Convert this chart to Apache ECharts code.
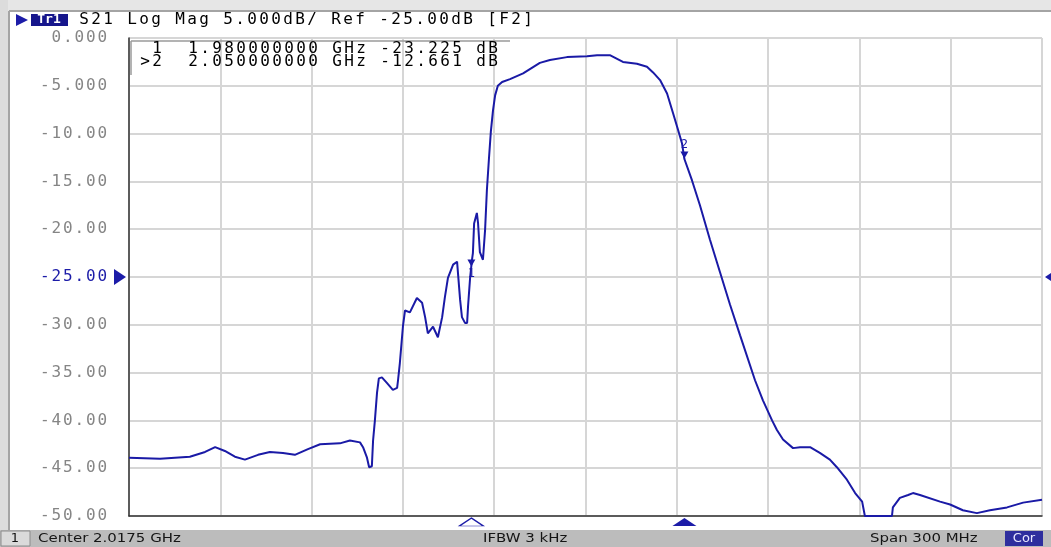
<!DOCTYPE html>
<html>
<head>
<meta charset="utf-8">
<title>S21 Log Mag</title>
<script src="https://cdn.jsdelivr.net/npm/echarts@6/dist/echarts.min.js"></script>
<style>
  html, body { margin: 0; padding: 0; background: #fff; }
  #chart { width: 1051px; height: 547px; }
</style>
</head>
<body>
<div id="chart"></div>
<script>
// sweep: center / span
var centerGHz = 2.0175
var spanMHz = 300
var divMHz = 30

// S21 trace
var freqGHz = [
  1.8675, 1.8777, 1.8875, 1.8925, 1.8958, 1.8990, 1.9023, 1.9056, 1.9099, 1.9138,
  1.9181, 1.9220, 1.9263, 1.9303, 1.9368, 1.9401, 1.9434, 1.9444, 1.9457, 1.9464,
  1.9473, 1.9477, 1.9483, 1.9490, 1.9496, 1.9506, 1.9523, 1.9542, 1.9556, 1.9559,
  1.9565, 1.9575, 1.9582, 1.9598, 1.9621, 1.9638, 1.9648, 1.9657, 1.9674, 1.9690,
  1.9704, 1.9713, 1.9723, 1.9740, 1.9753, 1.9756, 1.9763, 1.9769, 1.9779, 1.9786,
  1.9789, 1.9796, 1.9802, 1.9805, 1.9809, 1.9818, 1.9822, 1.9828, 1.9838, 1.9845,
  1.9851, 1.9858, 1.9864, 1.9871, 1.9878, 1.9887, 1.9901, 1.9927, 1.9970, 2.0025,
  2.0058, 2.0114, 2.0180, 2.0213, 2.0255, 2.0298, 2.0344, 2.0377, 2.0397, 2.0420,
  2.0443, 2.0463, 2.0479, 2.0492, 2.0500, 2.0525, 2.0551, 2.0584, 2.0617, 2.0650,
  2.0683, 2.0732, 2.0758, 2.0788, 2.0804, 2.0824, 2.0857, 2.0880, 2.0913, 2.0945,
  2.0978, 2.1001, 2.1034, 2.1061, 2.1084, 2.1093, 2.1182, 2.1185, 2.1208, 2.1235,
  2.1251, 2.1274, 2.1340, 2.1373, 2.1415, 2.1461, 2.1504, 2.1560, 2.1613, 2.1675
]
var s21dB = [
  -43.9, -44.0, -43.8, -43.3, -42.8, -43.2, -43.8, -44.1, -43.6, -43.3,
  -43.4, -43.6, -43.0, -42.5, -42.4, -42.1, -42.3, -42.8, -43.9, -44.9,
  -44.8, -42.1, -40.0, -37.1, -35.6, -35.5, -36.1, -36.8, -36.6, -35.8,
  -34.0, -30.2, -28.5, -28.7, -27.2, -27.7, -29.2, -30.9, -30.2, -31.3,
  -29.2, -27.1, -25.1, -23.7, -23.4, -24.6, -27.4, -29.2, -29.8, -29.8,
  -28.1, -25.0, -23.2, -22.5, -19.4, -18.3, -19.4, -22.4, -23.2, -20.1,
  -15.9, -12.5, -9.8, -7.6, -6.0, -5.0, -4.6, -4.3, -3.7, -2.6,
  -2.3, -2.0, -1.9, -1.8, -1.8, -2.5, -2.7, -3.0, -3.6, -4.4,
  -5.8, -7.9, -9.6, -11.0, -12.66, -14.9, -17.5, -21.1, -24.5, -27.9,
  -31.1, -35.8, -37.9, -40.0, -41.0, -42.0, -42.9, -42.8, -42.8, -43.4,
  -44.1, -44.9, -46.2, -47.6, -48.5, -50.0, -50.0, -49.1, -48.1, -47.8,
  -47.6, -47.8, -48.5, -48.8, -49.4, -49.7, -49.4, -49.1, -48.6, -48.3
]

var yTickLabels = ['0.000', '-5.000', '-10.00', '-15.00', '-20.00', '-25.00',
  '-30.00', '-35.00', '-40.00', '-45.00', '-50.00']
var refLevelDB = -25

var markerNames = ['1', '2']
var markerFreqGHz = [1.98, 2.05]
var markerDB = [-23.225, -12.661]
var activeMarker = 1

var headerText = 'S21 Log Mag 5.000dB/ Ref -25.00dB [F2]'
var markerLines = [' 1  1.980000000 GHz -23.225 dB', '>2  2.050000000 GHz -12.661 dB']
var statusTexts = ['Center 2.0175 GHz', 'IFBW 3 kHz', 'Span 300 MHz']

var blue = '#1c1ca8'
var traceBlue = '#1a1aa6'
var gridGray = '#d6d6d6'

// x axis runs as MHz offset from center so the divisions land on round ticks
function toOffset(f) {
  return Math.round((f - centerGHz) * 1000 * 100) / 100
}

// the analyzer font is spaced out: one fixed cell per character
function cells(str, style) {
  return str.split('').map(function (ch) { return '{' + style + '|' + ch + '}' }).join('')
}
function cellStyle(color, w) {
  return { width: w, align: 'center', fontFamily: 'DejaVu Sans Mono', fontSize: 16, color: color }
}

var traceData = freqGHz.map(function (f, i) { return [toOffset(f), s21dB[i]] })

var markPoints = []
markerNames.forEach(function (name, i) {
  var x = toOffset(markerFreqGHz[i])
  // marker on the trace
  markPoints.push({
    coord: [x, markerDB[i]],
    symbol: 'path://M0,0L10,0L5,9Z',
    symbolSize: [8, 7],
    symbolOffset: i === activeMarker ? [0, -4] : [0, 3],
    itemStyle: { color: traceBlue },
    label: {
      show: true, formatter: name, position: i === activeMarker ? 'top' : 'bottom',
      distance: 1, color: blue, fontFamily: 'DejaVu Sans Mono', fontSize: 12
    }
  })
  // marker flag under the frequency axis
  markPoints.push({
    coord: [x, -50],
    symbol: 'triangle',
    symbolSize: [24, 8],
    symbolOffset: [0, 6],
    itemStyle: i === activeMarker
      ? { color: blue }
      : { color: '#fff', borderColor: blue, borderWidth: 1.2 },
    label: { show: false }
  })
})
// reference level arrows on both sides
markPoints.push({
  coord: [-spanMHz / 2, refLevelDB], symbol: 'triangle', symbolSize: [16, 12],
  symbolRotate: -90, symbolOffset: [-9, 0], itemStyle: { color: blue }, label: { show: false }
})
markPoints.push({
  coord: [spanMHz / 2, refLevelDB], symbol: 'triangle', symbolSize: [16, 12],
  symbolRotate: 90, symbolOffset: [9, 0], itemStyle: { color: blue }, label: { show: false }
})

var chart = echarts.init(document.getElementById('chart'))

var option = {
  animation: false,
  backgroundColor: '#fff',
  grid: { left: 129, right: 9, top: 38, bottom: 31 },
  xAxis: {
    type: 'value',
    min: -spanMHz / 2,
    max: spanMHz / 2,
    interval: divMHz,
    axisLine: { show: true, onZero: false, lineStyle: { color: '#333', width: 1.5 } },
    axisTick: { show: false },
    axisLabel: { show: false },
    splitLine: { show: true, lineStyle: { color: gridGray, width: 2 } }
  },
  yAxis: {
    type: 'value',
    min: -50,
    max: 0,
    interval: 5,
    axisLine: { show: true, onZero: false, lineStyle: { color: '#333', width: 1.5 } },
    axisTick: { show: false },
    axisLabel: {
      margin: 21,
      formatter: function (v) {
        var t = yTickLabels[Math.round(-v / 5)]
        return cells(t, v === refLevelDB ? 'r' : 'g')
      },
      rich: { g: cellStyle('#858585', 11.5), r: cellStyle(blue, 11.5) }
    },
    splitLine: { show: true, lineStyle: { color: gridGray, width: 2 } }
  },
  graphic: [
    // window frame
    { type: 'rect', z: -1, shape: { x: 0, y: 0, width: 1051, height: 11 }, style: { fill: '#e6e6e6' } },
    { type: 'rect', z: -1, shape: { x: 0, y: 0, width: 8, height: 547 }, style: { fill: '#dcdcdc' } },
    { type: 'line', shape: { x1: 9, y1: 11, x2: 1051, y2: 11 }, style: { stroke: '#a4a4a4', lineWidth: 2 } },
    { type: 'line', shape: { x1: 9, y1: 11, x2: 9, y2: 530 }, style: { stroke: '#a4a4a4', lineWidth: 2 } },
    // trace title
    { type: 'polygon', shape: { points: [[16, 14], [16, 26], [28, 20]] }, style: { fill: blue } },
    { type: 'rect', shape: { x: 31, y: 14, width: 37, height: 12 }, style: { fill: '#16168c' } },
    {
      type: 'text', x: 49, y: 20,
      style: { text: 'Tr1', fill: '#fff', font: 'bold 13px "DejaVu Sans Mono"', align: 'center', verticalAlign: 'middle' }
    },
    {
      type: 'text', x: 78, y: 20,
      style: { text: cells(headerText, 'h'), rich: { h: cellStyle(blue, 12) }, verticalAlign: 'middle' }
    },
    // marker readout
    { type: 'line', z: 10, shape: { x1: 131, y1: 41, x2: 510, y2: 41 }, style: { stroke: '#9a9a9a', lineWidth: 1.5 } },
    { type: 'line', z: 10, shape: { x1: 131, y1: 41, x2: 131, y2: 75 }, style: { stroke: '#9a9a9a', lineWidth: 1.5 } },
    {
      type: 'text', z: 10, x: 139, y: 49,
      style: { text: cells(markerLines[0], 'm'), rich: { m: cellStyle(blue, 12) }, verticalAlign: 'middle' }
    },
    {
      type: 'text', z: 10, x: 139, y: 62,
      style: { text: cells(markerLines[1], 'm'), rich: { m: cellStyle(blue, 12) }, verticalAlign: 'middle' }
    },
    // status bar
    { type: 'rect', shape: { x: 0, y: 530, width: 1051, height: 17 }, style: { fill: '#bcbcbc' } },
    { type: 'rect', shape: { x: 1, y: 531, width: 29, height: 15 }, style: { fill: '#dadada', stroke: '#8c8c8c', lineWidth: 1 } },
    { type: 'text', x: 15, y: 539, style: { text: '1', fill: '#111', font: '13px "DejaVu Sans"', align: 'center', verticalAlign: 'middle' } },
    { type: 'text', x: 38, y: 539, scaleX: 1.15, style: { text: statusTexts[0], fill: '#151515', font: '13px "DejaVu Sans"', verticalAlign: 'middle' } },
    { type: 'text', x: 483, y: 539, scaleX: 1.15, style: { text: statusTexts[1], fill: '#151515', font: '13px "DejaVu Sans"', verticalAlign: 'middle' } },
    { type: 'text', x: 870, y: 539, scaleX: 1.15, style: { text: statusTexts[2], fill: '#151515', font: '13px "DejaVu Sans"', verticalAlign: 'middle' } },
    { type: 'rect', shape: { x: 1005, y: 531, width: 38, height: 15 }, style: { fill: '#2e2e9e' } },
    { type: 'text', x: 1024, y: 539, style: { text: 'Cor', fill: '#e8e8ff', font: '13px "DejaVu Sans"', align: 'center', verticalAlign: 'middle' } }
  ],
  series: [{
    type: 'line',
    data: traceData,
    symbol: 'none',
    smooth: false,
    lineStyle: { color: traceBlue, width: 2 },
    markPoint: { data: markPoints }
  }]
}

chart.setOption(option)
window.addEventListener('resize', function () { chart.resize() })
</script>
</body>
</html>
